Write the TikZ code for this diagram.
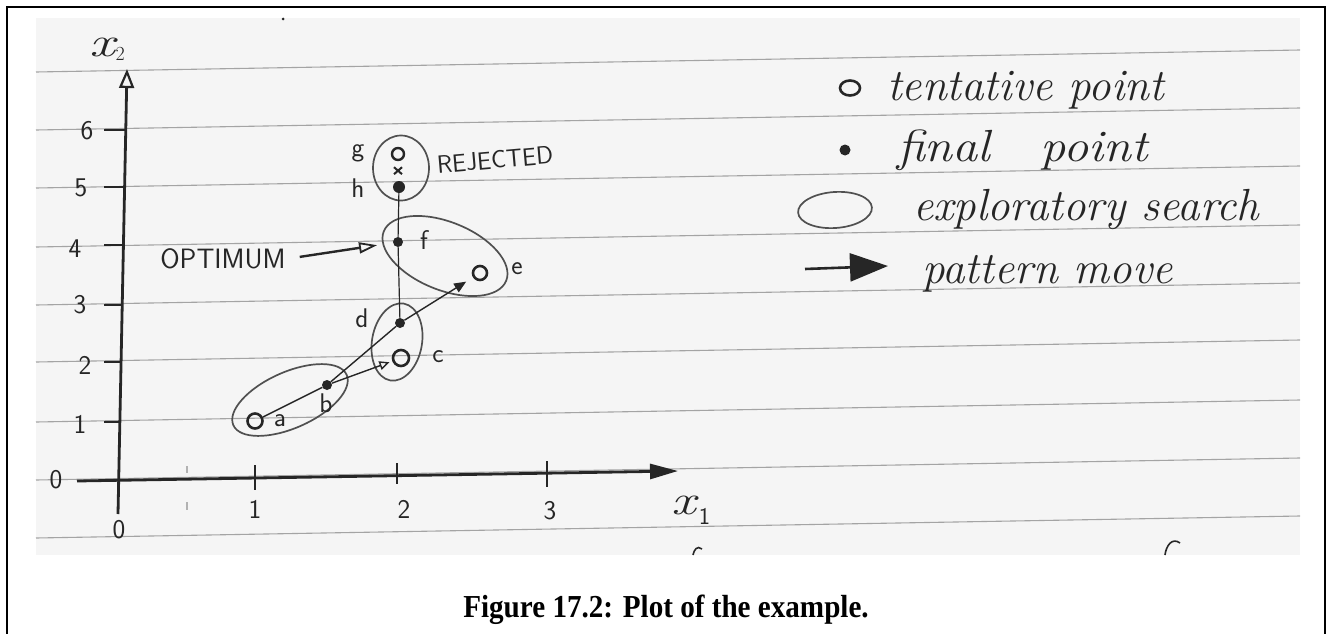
\documentclass[tikz,border=0pt]{standalone}
\usepackage{fontspec}
\usetikzlibrary{arrows.meta,shapes.geometric}
\newfontfamily\capfont{Liberation Serif}

\definecolor{pencil}{HTML}{262626}
\definecolor{softpencil}{HTML}{505050}
\definecolor{paper}{HTML}{F5F5F5}
\definecolor{ruling}{HTML}{A4A4A4}

\tikzset{
  tent/.style={ellipse, draw=pencil, line width=2.6pt, minimum size=14pt, inner sep=0pt},
  fin/.style={circle, fill=pencil, minimum size=10pt, inner sep=0pt},
  explo/.style={ellipse, draw=softpencil, line width=1.7pt, inner sep=0pt},
  lbl/.style={font=\sffamily\fontsize{27}{27}\selectfont, text=pencil, inner sep=0pt},
  hand/.style={font=\itshape\fontsize{45}{50}\selectfont, text=pencil, anchor=base west, inner sep=0pt},
  axname/.style={font=\itshape\fontsize{42}{42}\selectfont, text=pencil, inner sep=0pt, anchor=base west},
  link/.style={draw=pencil, line width=1.4pt},
  axis/.style={draw=pencil, line width=2.8pt},
  tick/.style={draw=pencil, line width=2.4pt},
  ruleline/.style={draw=ruling, line width=1.1pt},
}

\begin{document}
\begin{tikzpicture}[x=1pt,y=-1pt]
\useasboundingbox (0,0) rectangle (1330,634);

% page frame, open at the bottom
\draw[line width=2pt] (7,634) -- (7,7) -- (1325,7) -- (1325,634);

% notebook paper and its ruled lines
\fill[paper] (36,18) rectangle (1300,555);
\foreach \yl in {72,130,188,247,305,362,422,480,538}
  \draw[ruleline] (36,\yl) -- (1300,\yl-22);
\fill[pencil] (283,19) circle (1.5pt);

% axes
\coordinate (yb) at (118,514);
\coordinate (yt) at (127,69);
\coordinate (xl) at (77,481);
\coordinate (xr) at (678,471);
\draw[axis, -{Triangle[open, length=19pt, width=15pt, line width=2.2pt]}] (yb) -- (yt);
\draw[axis, -{Triangle[length=28pt, width=15pt]}] (xl) -- (xr);

% ticks on x2
\foreach \ty/\ax in {130/125.8,187/124.6,245/123.4,305/122.2,362/121,422/119.9}
  \draw[tick] (104,\ty) -- (\ax,\ty);
% ticks on x1
\draw[tick] (255,465) -- (255,490);
\draw[tick] (397,463) -- (397,484);
\draw[tick] (547,461) -- (547,487);
\draw[draw=gray!60, line width=1.2pt] (187,466) -- (187,473) (187,502) -- (187,510);

% tick labels
\node[lbl] (l6) at (87,131) {6};
\node[lbl] (l5) at (81,188) {5};
\node[lbl] (l4) at (75,249) {4};
\node[lbl] (l3) at (80,305) {3};
\node[lbl] (l2) at (85,365) {2};
\node[lbl] (l1) at (80,424) {1};
\node[lbl] (l0) at (56,480) {0};
\node[lbl] (o0) at (119,530) {0};
\node[lbl] (m1) at (255,509) {1};
\node[lbl] (m2) at (404,509) {2};
\node[lbl] (m3) at (550,511) {3};

% axis names
\node[axname] (nx2) at (89,57) {\scalebox{1.35}[1]{x}\hspace{1pt}\raisebox{-3pt}{\upshape\fontsize{20}{20}\selectfont 2}};
\node[axname] (nx1) at (671,514) {\scalebox{1.3}[1]{x}\hspace{3pt}\raisebox{-10pt}{\upshape\sffamily\fontsize{24}{24}\selectfont 1}};

% exploratory searches
\node[explo, minimum width=124pt, minimum height=56pt, rotate=24] (Eab) at (290,400) {};
\node[explo, minimum width=50pt, minimum height=78pt, rotate=-10] (Ecd) at (397,342) {};
\node[explo, minimum width=132pt, minimum height=68pt, rotate=-22] (Efe) at (445,256) {};
\node[explo, minimum width=56pt, minimum height=65pt] (Egh) at (401,168) {};

% points
\node[tent, minimum size=15pt] (a) at (255,421) {};
\node[fin] (b) at (327,385) {};
\node[tent, minimum size=16pt] (c) at (401,358) {};
\node[fin] (d) at (400,323) {};
\node[tent, minimum size=14pt] (e) at (480,273) {};
\node[fin] (f) at (398,242) {};
\node[tent, minimum size=12pt, line width=2.4pt] (g) at (398,154) {};
\node[fin, minimum size=12pt] (h) at (399,187) {};
\draw[pencil, line width=2pt] ([shift={(-4,6)}]g.south) -- ([shift={(4,13)}]g.south)
                               ([shift={(4,6)}]g.south) -- ([shift={(-4,13)}]g.south);

% moves
\draw[link] (a) -- (b);
\draw[link, -{Triangle[open, length=10pt, width=9pt, line width=1.4pt]}, shorten >=3pt] (b) -- (c);
\draw[link] (b) -- (d);
\draw[link, -{Triangle[length=12pt, width=10pt]}, shorten >=8pt] (d) -- (e);
\draw[link, line width=1.2pt] (d) -- (f);
\draw[link, line width=1.2pt] (f) -- (h);

% point labels
\node[lbl] (la) at (280,421) {a};
\node[lbl] (lb) at (326,403) {b};
\node[lbl] (lc) at (438,357) {c};
\node[lbl] (ld) at (362,318) {d};
\node[lbl] (le) at (517,269) {e};
\node[lbl] (lf) at (424,240) {f};
\node[lbl] (lg) at (358,153) {g};
\node[lbl] (lh) at (358,188) {h};

% annotations
\node[lbl, font=\sffamily\fontsize{25}{25}\selectfont, rotate=5] (rej) at (495,160) {REJECTED};
\node[lbl, font=\sffamily\fontsize{28}{28}\selectfont] (opt) at (223,259) {OPTIMUM};
\draw[pencil, line width=2.4pt, -{Triangle[open, length=18pt, width=11pt, line width=1.8pt]},
      shorten <=14pt, shorten >=16pt] (opt.east) -- (f);

% legend
\node[tent, minimum width=20pt, minimum height=15pt] (kt) at (850,88) {};
\node[fin, minimum size=11pt] (kf) at (845,150) {};
\node[explo, minimum width=74pt, minimum height=36pt, rotate=4] (ke) at (835,210) {};
\coordinate (ka) at (805,269);
\coordinate (kb) at (888,266);
\draw[pencil, line width=2.6pt, -{Triangle[length=38pt, width=28pt]}] (ka) -- (kb);
\node[hand] (tt) at (887,100) {tentative point};
\node[hand] (tf) at (897,161) {\scalebox{1.12}[1]{final\hspace{1em}point}};
\node[hand] (te) at (913,220) {exploratory search};
\node[hand] (tp) at (922,283) {pattern move};

% letters cut off at the foot of the page
\draw[pencil, line width=1.6pt] (702,549) .. controls (697,545) and (694,550) .. (693,555);
\draw[pencil, line width=1.6pt] (1180,543) .. controls (1172,537) and (1166,546) .. (1165,555);

% caption
\node[font=\capfont\bfseries\fontsize{32}{36}\selectfont, anchor=base, inner sep=0pt] (cap) at (666,617)
  {\scalebox{0.91}[1]{Figure 17.2: Plot of the example.}};
\end{tikzpicture}
\end{document}
